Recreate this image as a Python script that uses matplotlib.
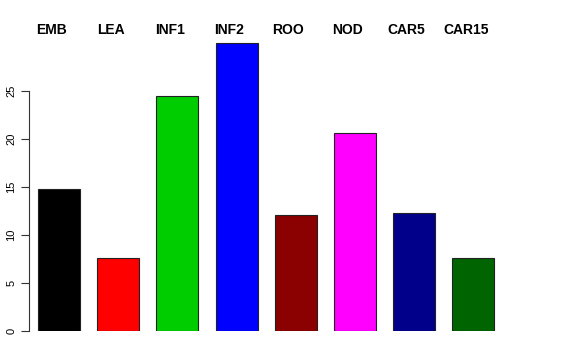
import numpy as np
import matplotlib
matplotlib.use("Agg")
from matplotlib import pyplot as plt

# data
names = ["EMB", "LEA", "INF1", "INF2", "ROO", "NOD", "CAR5", "CAR15"]
values = [14.8, 7.6, 24.5, 30.0, 12.1, 20.65, 12.3, 7.6]
colors = ["#000000", "#ff0000", "#00cd00", "#0000ff", "#8b0000", "#ff00ff", "#00008b", "#006400"]
yticks = [0, 5, 10, 15, 20, 25]

W, H = 576, 360
fig = plt.figure(figsize=(W / 100, H / 100), dpi=100)
# axes placed in pixel coordinates (left at the y axis line)
ax = fig.add_axes([29 / W, 29 / H, (560 - 29) / W, (331 - 20) / H])

x = np.arange(len(names))
ax.bar(x, values, width=0.71, color=colors, edgecolor="#222222", linewidth=0.8)

ax.set_xlim((29 - 59) / 59.2, (560 - 59) / 59.2)
ax.set_ylim(0, 311 / 9.6)

# labels on top, like R text() above the bars
for xi, name in zip(x, names):
    ax.text(xi - 0.13, 31.4, name, ha="center", va="center",
            fontsize=10, fontweight="bold", family="Liberation Sans", clip_on=False)

for s in ["top", "right", "bottom"]:
    ax.spines[s].set_visible(False)
ax.spines["left"].set_bounds(0, 25)
ax.spines["left"].set_color("#333333")
ax.spines["left"].set_linewidth(0.8)
ax.set_xticks([])
ax.set_yticks(yticks)
ax.set_yticklabels([str(t) for t in yticks], rotation=90, va="center",
                   fontsize=8, family="Liberation Sans")
ax.tick_params(axis="y", length=6, width=0.8, color="#333333", pad=3)

fig.savefig("out.png", dpi=100)
